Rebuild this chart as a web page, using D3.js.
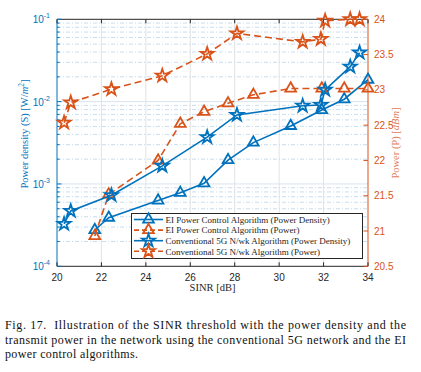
<!DOCTYPE html>
<html>
<head>
<meta charset="utf-8">
<script src="https://cdn.jsdelivr.net/npm/d3@7"></script>
<style>
  body { margin: 0; background: #fff; }
  svg { display: block; }
</style>
</head>
<body>
<div id="chart"></div>
<script>
// SINR values (dB) for each algorithm
const eiSinr = [21.7, 22.33, 24.55, 25.55, 26.62, 27.7, 28.84, 30.52, 31.92, 32.93, 34];
const convSinr = [20.32, 20.62, 22.45, 24.74, 26.76, 28.1, 31.06, 31.88, 32.07, 33.2, 33.62];

// power density [W/m^2] (left axis, log)
const eiDensity = [2.76e-4, 3.9e-4, 6.3e-4, 7.8e-4, 1.02e-3, 1.95e-3, 3.18e-3, 5.07e-3, 7.9e-3, 1.07e-2, 1.85e-2];
const convDensity = [3.27e-4, 4.7e-4, 7.3e-4, 1.66e-3, 3.7e-3, 6.9e-3, 8.9e-3, 9.1e-3, 1.39e-2, 2.66e-2, 3.94e-2];

// transmit power [dBm] (right axis)
const eiPower = [20.93, 21.52, 22.0, 22.52, 22.69, 22.81, 22.93, 23.02, 23.02, 23.02, 23.02];
const convPower = [22.535, 22.82, 23.01, 23.2, 23.51, 23.8, 23.68, 23.72, 23.98, 24.0, 24.0];

const xTicks = [20, 22, 24, 26, 28, 30, 32, 34];
const leftTicks = [1e-4, 1e-3, 1e-2, 1e-1];
const rightTicks = [20.5, 21, 21.5, 22, 22.5, 23, 23.5, 24];

const legendLabels = [
  "EI Power Control Algorithm (Power Density)",
  "EI Power Control Algorithm (Power)",
  "Conventional 5G N/wk Algorithm (Power Density)",
  "Conventional 5G N/wk Algorithm (Power)"
];

const captionLines = [
  "Fig. 17.  Illustration of the SINR threshold with the power density and the",
  "transmit power in the network using the conventional 5G network and the EI",
  "power control algorithms."
];

const blue = "#0072BD";
const orange = "#D95319";
const dark = "#262626";

const width = 421, height = 372;
const margin = { left: 57, right: 53, top: 19.3, bottom: 105.7 };
const x0 = margin.left, x1 = width - margin.right;
const y0 = margin.top, y1 = height - margin.bottom;

const svg = d3.select("#chart").append("svg")
  .attr("width", width)
  .attr("height", height)
  .style("background", "#fff");

const x = d3.scaleLinear().domain([20, 34]).range([x0, x1]);
const yL = d3.scaleLog().domain([1e-4, 1e-1]).range([y1, y0]);
const yR = d3.scaleLinear().domain([20.5, 24]).range([y1, y0]);

// grid
const grid = svg.append("g");
xTicks.slice(1, -1).forEach(t => {
  grid.append("line")
    .attr("x1", x(t)).attr("x2", x(t))
    .attr("y1", y0).attr("y2", y1)
    .attr("stroke", "#e3e3e3").attr("stroke-width", 1);
});
const minorVals = [];
for (let e = -4; e < -1; e++) {
  for (let m = 2; m <= 9; m++) minorVals.push(m * Math.pow(10, e));
}
minorVals.forEach(v => {
  grid.append("line")
    .attr("x1", x0).attr("x2", x1)
    .attr("y1", yL(v)).attr("y2", yL(v))
    .attr("stroke", "#b9d6ec").attr("stroke-width", 0.8)
    .attr("stroke-dasharray", "4,2,1,2");
});
leftTicks.slice(1, -1).forEach(v => {
  grid.append("line")
    .attr("x1", x0).attr("x2", x1)
    .attr("y1", yL(v)).attr("y2", yL(v))
    .attr("stroke", "#d8e4ee").attr("stroke-width", 1);
});

// axes frame
svg.append("line").attr("x1", x0).attr("x2", x1).attr("y1", y1).attr("y2", y1)
  .attr("stroke", dark).attr("stroke-width", 1);
svg.append("line").attr("x1", x0).attr("x2", x1).attr("y1", y0).attr("y2", y0)
  .attr("stroke", dark).attr("stroke-width", 1);
svg.append("line").attr("x1", x0).attr("x2", x0).attr("y1", y0).attr("y2", y1)
  .attr("stroke", blue).attr("stroke-width", 1);
svg.append("line").attr("x1", x1).attr("x2", x1).attr("y1", y0).attr("y2", y1)
  .attr("stroke", orange).attr("stroke-width", 1);

// x ticks (bottom and top)
const sans = "'Liberation Sans', Arial, sans-serif";
const serif = "'Liberation Serif', 'DejaVu Serif', serif";
xTicks.forEach(t => {
  svg.append("line").attr("x1", x(t)).attr("x2", x(t)).attr("y1", y1).attr("y2", y1 - 4)
    .attr("stroke", dark);
  svg.append("line").attr("x1", x(t)).attr("x2", x(t)).attr("y1", y0).attr("y2", y0 + 4)
    .attr("stroke", dark);
  svg.append("text").attr("x", x(t)).attr("y", y1 + 14.5)
    .attr("text-anchor", "middle").attr("font-family", sans).attr("font-size", 10)
    .attr("fill", dark).text(t);
});

// left log ticks
minorVals.forEach(v => {
  svg.append("line").attr("x1", x0).attr("x2", x0 + 2.5).attr("y1", yL(v)).attr("y2", yL(v))
    .attr("stroke", blue);
});
leftTicks.forEach(v => {
  svg.append("line").attr("x1", x0).attr("x2", x0 + 4.5).attr("y1", yL(v)).attr("y2", yL(v))
    .attr("stroke", blue);
  const t = svg.append("text").attr("x", x0 - 7).attr("y", yL(v) + 4)
    .attr("text-anchor", "end").attr("font-family", sans).attr("font-size", 10)
    .attr("fill", blue);
  t.append("tspan").text("10");
  t.append("tspan").attr("dy", -5).attr("font-size", 7).text(String(Math.round(Math.log10(v))));
});

// right ticks
rightTicks.forEach(v => {
  svg.append("line").attr("x1", x1).attr("x2", x1 - 4.5).attr("y1", yR(v)).attr("y2", yR(v))
    .attr("stroke", orange);
  svg.append("text").attr("x", x1 + 6).attr("y", yR(v) + 3.5)
    .attr("font-family", sans).attr("font-size", 10)
    .attr("fill", orange).text(v);
});

// axis labels
svg.append("text").attr("x", (x0 + x1) / 2).attr("y", y1 + 25)
  .attr("text-anchor", "middle").attr("font-family", serif).attr("font-size", 10.5)
  .attr("fill", dark).text("SINR [dB]");

const ll = svg.append("text")
  .attr("transform", "translate(28,134) rotate(-90)")
  .attr("text-anchor", "middle").attr("font-family", serif).attr("font-size", 10.5)
  .attr("fill", blue);
ll.append("tspan").text("Power density (S) [W/");
ll.append("tspan").attr("font-style", "italic").text("m");
ll.append("tspan").attr("dy", -4).attr("font-size", 7.5).text("2");
ll.append("tspan").attr("dy", 4).text("]");

const rl = svg.append("text")
  .attr("transform", "translate(399,143) rotate(-90)")
  .attr("text-anchor", "middle").attr("font-family", serif).attr("font-size", 10.5)
  .attr("fill", "#e0805a");
rl.append("tspan").text("Power (P) [");
rl.append("tspan").attr("font-style", "italic").text("dBm");
rl.append("tspan").text("]");

// series
const series = [
  { xs: eiSinr, ys: eiDensity, scale: yL, color: blue, dash: null, marker: d3.symbolTriangle, size: 50 },
  { xs: eiSinr, ys: eiPower, scale: yR, color: orange, dash: "7,4", marker: d3.symbolTriangle, size: 50 },
  { xs: convSinr, ys: convDensity, scale: yL, color: blue, dash: null, marker: d3.symbolStar, size: 52 },
  { xs: convSinr, ys: convPower, scale: yR, color: orange, dash: "7,4", marker: d3.symbolStar, size: 52 }
];

series.forEach(s => {
  const pts = s.xs.map((v, i) => [x(v), s.scale(s.ys[i])]);
  svg.append("path")
    .attr("d", d3.line()(pts))
    .attr("fill", "none").attr("stroke", s.color).attr("stroke-width", 1.6)
    .attr("stroke-dasharray", s.dash);
  svg.append("g").selectAll("path").data(pts).join("path")
    .attr("transform", d => `translate(${d[0]},${d[1]})`)
    .attr("d", d3.symbol(s.marker, s.size))
    .attr("fill", "none").attr("stroke", s.color).attr("stroke-width", 1.8)
    .attr("stroke-linejoin", "miter");
});

// legend
const lg = svg.append("g");
lg.append("rect").attr("x", 131.5).attr("y", 213.5).attr("width", 231).attr("height", 45)
  .attr("fill", "#fff").attr("stroke", dark).attr("stroke-width", 1);
legendLabels.forEach((lab, i) => {
  const s = series[i];
  const yy = 219.5 + i * 10.6;
  lg.append("line").attr("x1", 134).attr("x2", 163).attr("y1", yy).attr("y2", yy)
    .attr("stroke", s.color).attr("stroke-width", 1.6).attr("stroke-dasharray", s.dash ? "5,3" : null);
  lg.append("path").attr("transform", `translate(148.5,${yy})`)
    .attr("d", d3.symbol(s.marker, s.size))
    .attr("fill", "none").attr("stroke", s.color).attr("stroke-width", 1.8);
  lg.append("text").attr("x", 165.5).attr("y", yy + 3.3)
    .attr("font-family", serif).attr("font-size", 9).attr("fill", dark).text(lab);
});

// caption, justified like the paper column
const captionWidths = [401, 401, 133];
captionLines.forEach((line, i) => {
  svg.append("text").attr("x", 5).attr("y", 329 + i * 14.5)
    .attr("font-family", serif).attr("font-size", 12).attr("fill", "#111")
    .style("white-space", "pre")
    .attr("textLength", captionWidths[i]).attr("lengthAdjust", "spacing")
    .text(line);
});
</script>
</body>
</html>
